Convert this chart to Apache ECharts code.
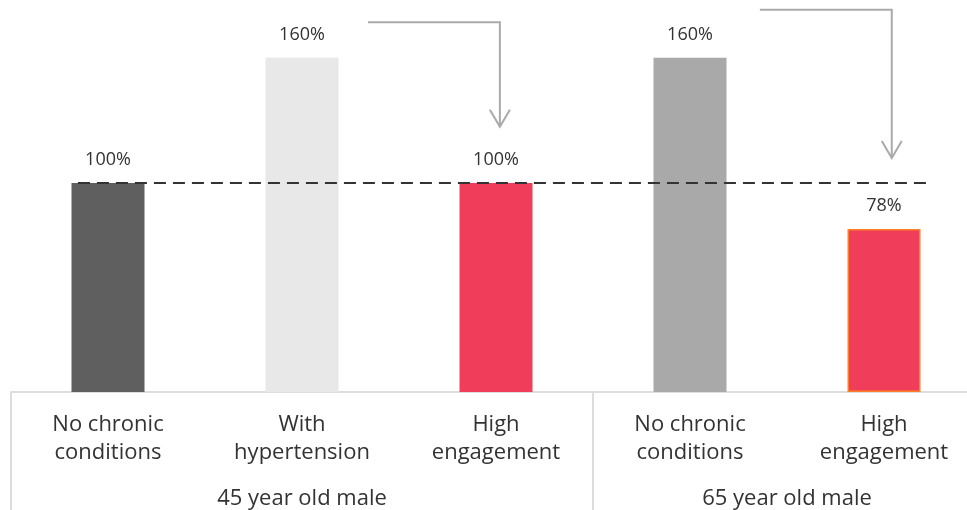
<!DOCTYPE html>
<html>
<head>
<meta charset="utf-8">
<script src="https://cdn.jsdelivr.net/npm/echarts@6/dist/echarts.min.js"></script>
<style>
  html, body { margin: 0; padding: 0; background: #fff; }
  #chart { width: 967px; height: 510px; }
</style>
</head>
<body>
<div id="chart"></div>
<script>
// bar categories and values (percent of baseline cost)
const categories = ['No chronic\nconditions', 'With\nhypertension', 'High\nengagement', 'No chronic\nconditions', 'High\nengagement']
const values = [100, 160, 100, 160, 78]
const barColors = ['#5f5f5f', '#e8e8e8', '#f03e5a', '#a9a9a9', '#f03e5a']

// half-slot labels for the group axis (boundaries at 0, 6, 10)
const groupSlots = ['', '', '', '45 year old male', '', '', '', '', '65 year old male', '', '']
const groupDividers = [0, 6]

// 100% reference line, in category units
const baseline = [[-0.155, 100], [4.237, 100]]

// arrows: [xStart, yTop, xCorner, yEnd]
const arrows = [
  [1.34, 177, 2.02, 127],
  [3.36, 183, 4.04, 112]
]

const font = '"Open Sans"'
const chart = echarts.init(document.getElementById('chart'))

chart.setOption({
  animation: false,
  grid: { left: 11, width: 970, top: 16, bottom: 118, containLabel: false, outerBoundsMode: 'none' },
  xAxis: [{
    type: 'category',
    data: categories,
    position: 'bottom',
    axisLine: { lineStyle: { color: '#dddddd', width: 2 } },
    axisTick: { show: false },
    axisLabel: {
      interval: 0,
      margin: 19,
      color: '#333',
      fontFamily: font,
      fontSize: 22,
      lineHeight: 28
    }
  }, {
    type: 'category',
    data: groupSlots,
    boundaryGap: false,
    position: 'bottom',
    axisLine: { show: false },
    axisTick: {
      show: true,
      length: 118,
      interval: (i) => groupDividers.indexOf(i) >= 0,
      lineStyle: { color: '#dddddd', width: 2 }
    },
    axisLabel: {
      interval: 0,
      margin: 96,
      color: '#333',
      fontFamily: font,
      fontSize: 22
    }
  }, {
    type: 'value',
    min: -0.5,
    max: 4.5,
    show: false
  }],
  yAxis: {
    type: 'value',
    min: 0,
    max: 180,
    show: false,
    splitLine: { show: false }
  },
  series: [{
    type: 'bar',
    xAxisIndex: 0,
    barWidth: 73,
    data: values.map((v, i) => ({
      value: v,
      itemStyle: i === 4
        ? { color: barColors[i], borderColor: '#ff7f27', borderWidth: 1.5 }
        : { color: barColors[i] }
    })),
    label: {
      show: true,
      position: 'top',
      distance: 14,
      color: '#333',
      fontFamily: font,
      fontSize: 18,
      formatter: (p) => p.value + '%'
    },
    z: 2
  }, {
    type: 'line',
    xAxisIndex: 2,
    data: baseline,
    symbol: 'none',
    lineStyle: { color: '#333', width: 2, type: [12, 7] },
    z: 3
  }, {
    type: 'custom',
    xAxisIndex: 2,
    clip: false,
    data: arrows,
    renderItem: (params, api) => {
      const a = api.coord([api.value(0), api.value(1)])
      const b = api.coord([api.value(2), api.value(1)])
      const c = api.coord([api.value(2), api.value(3)])
      const style = { stroke: '#aaaaaa', lineWidth: 2, fill: null }
      return {
        type: 'group',
        children: [{
          type: 'polyline',
          shape: { points: [a, b, c] },
          style
        }, {
          type: 'polyline',
          shape: { points: [[c[0] - 10, c[1] - 17], c, [c[0] + 10, c[1] - 17]] },
          style
        }]
      }
    }
  }]
})
</script>
</body>
</html>
